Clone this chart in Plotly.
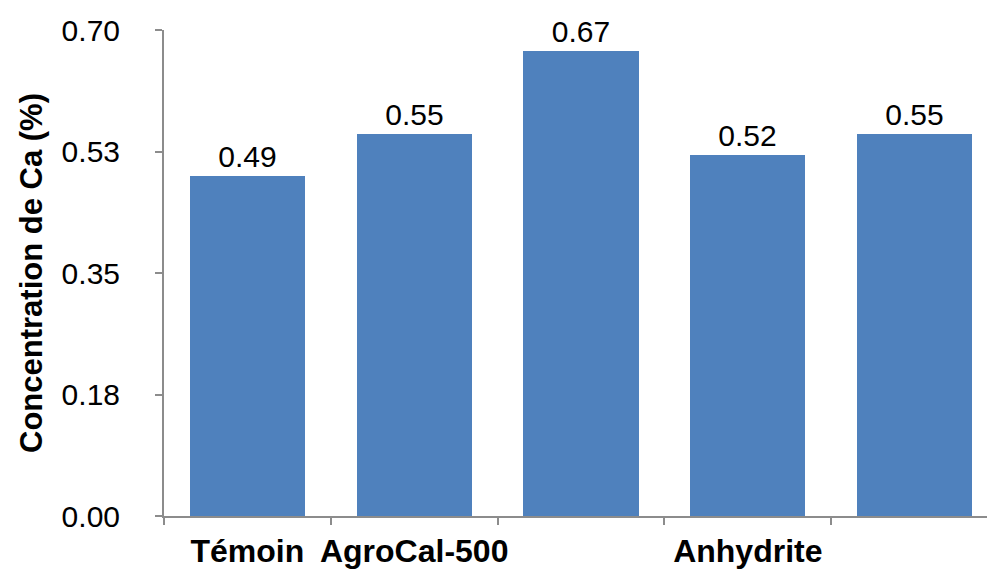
import plotly.graph_objects as go

# Calcium concentration per treatment
positions = [0, 1, 2, 3, 4]
tick_labels = ["Témoin", "AgroCal-500", "", "Anhydrite", ""]
ca_values = [0.49, 0.55, 0.67, 0.52, 0.55]
y_tickvals = [0.0, 0.175, 0.35, 0.525, 0.70]
y_ticktext = ["0.00", "0.18", "0.35", "0.53", "0.70"]

font_family = "Liberation Sans, Arial, sans-serif"
axis_grey = "#8c8c8c"

fig = go.Figure(
    go.Bar(
        x=positions,
        y=ca_values,
        width=0.69,
        marker=dict(color="#4F81BD", line=dict(width=0)),
        text=[f"{v:.2f}" for v in ca_values],
        textposition="outside",
        textfont=dict(family=font_family, size=30, color="black"),
        cliponaxis=False,
    )
)

fig.update_layout(
    width=987,
    height=571,
    margin=dict(l=164, r=0, t=30, b=55),
    paper_bgcolor="white",
    plot_bgcolor="white",
    showlegend=False,
    bargap=0,
)

fig.update_xaxes(
    range=[-0.5, 4.434],
    tickmode="array",
    tickvals=positions,
    ticktext=tick_labels,
    ticks="",
    ticklabelstandoff=6,
    tickfont=dict(family=font_family, size=32, color="black", weight="bold"),
    showline=True,
    linecolor=axis_grey,
    linewidth=2,
    showgrid=False,
    zeroline=False,
    automargin=False,
    minor=dict(
        tickmode="array",
        tickvals=[-0.5, 0.5, 1.5, 2.5, 3.5, 4.5],
        ticks="outside",
        ticklen=7,
        tickwidth=2,
        tickcolor=axis_grey,
        showgrid=False,
    ),
)

fig.update_yaxes(
    range=[0, 0.70],
    tickmode="array",
    tickvals=y_tickvals,
    ticktext=y_ticktext,
    ticks="outside",
    ticklen=7,
    tickwidth=2,
    tickcolor=axis_grey,
    ticklabelstandoff=29,
    tickfont=dict(family=font_family, size=30, color="black"),
    showline=True,
    linecolor=axis_grey,
    linewidth=2,
    showgrid=False,
    zeroline=False,
    automargin=False,
    title=dict(
        text="Concentration de Ca (%)",
        font=dict(family=font_family, size=31, color="black", weight="bold"),
        standoff=10,
    ),
)

fig.write_html("out.html")
